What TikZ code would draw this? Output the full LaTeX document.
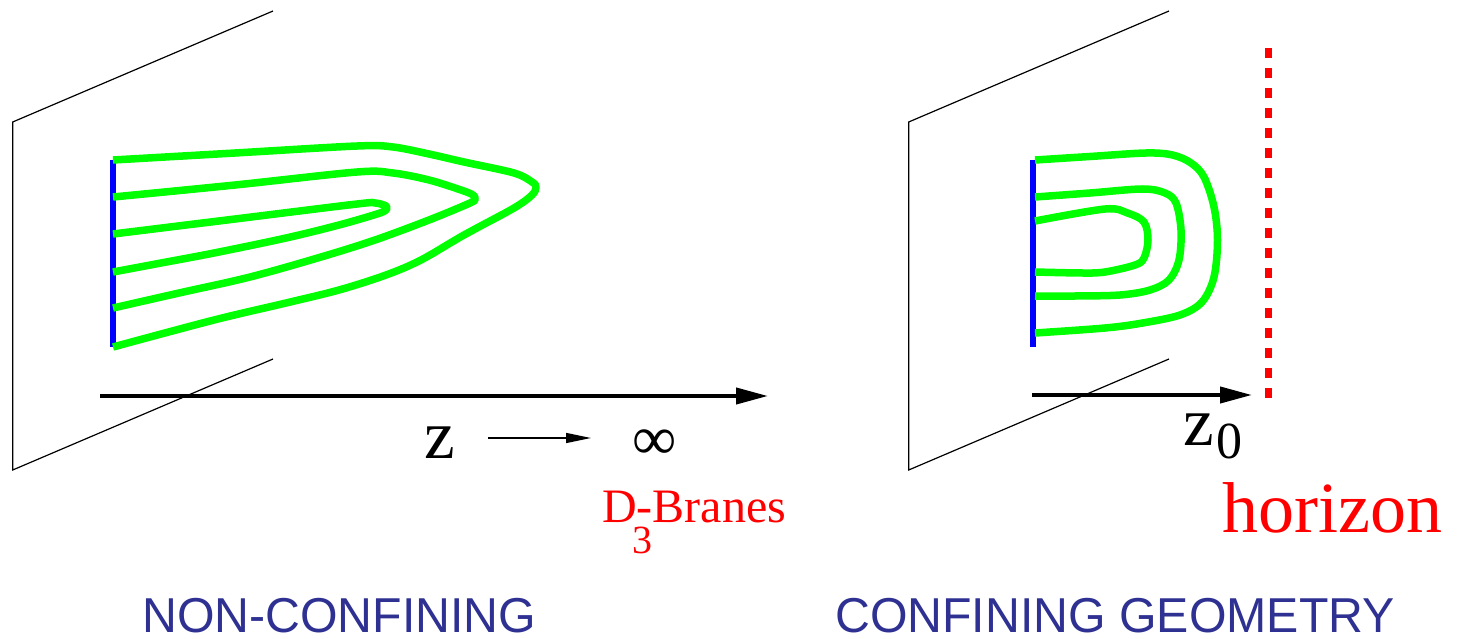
\documentclass[tikz,border=0pt]{standalone}
\usepackage{fontspec}
\setmainfont{Liberation Serif}
\newfontfamily\captionfont[FakeStretch=0.985]{Liberation Sans}
\usetikzlibrary{arrows.meta}
\definecolor{capblue}{RGB}{46,49,146}

\begin{document}
\begin{tikzpicture}[x=1pt, y=-1pt,
  wall/.style={line width=1.2pt, black},
  brane/.style={line width=6pt, blue},
  flux/.style={line width=7.5pt, green, line join=round},
  zaxis/.style={line width=4pt, -{Triangle[length=32pt,width=16pt]}},
  lbl/.style={anchor=base west, inner sep=0pt},
  caption/.style={lbl, text=capblue, font=\captionfont\fontsize{49}{52}\selectfont}]
  \useasboundingbox (0,0) rectangle (1468,639);

  % non-confining: strings reach out to z -> infinity
  \draw[wall] (273,11) -- (12.7,122) -- (12.7,470) -- (273,359);
  \coordinate (bl1) at (112.5,160);
  \coordinate (bl2) at (112.5,347);
  \draw[brane] (bl1) -- (bl2);
  \draw[flux] plot[smooth, tension=0.55] coordinates {(113,160) (235,153) (357,146) (393,147) (429,154) (464,162) (514,173) (532,182) (536,187) (532,195) (514,208) (464,235) (421,260) (386,275) (339,290) (286,303) (214,320) (113,347)};
  \draw[flux] plot[smooth, tension=0.55] coordinates {(113,197) (235,185) (357,172) (393,173) (429,180) (461,190) (473,195) (475,199) (470,203) (429,220) (375,240) (321,257) (250,277) (179,293) (113,308)};
  \draw[flux] plot[smooth, tension=0.55] coordinates {(113,234) (235,219) (357,204) (375,203) (386,206) (386,210) (377,214) (339,225) (286,238) (214,253) (161,263) (113,272)};
  \coordinate (ax1) at (100,396);
  \coordinate (ax2) at (768,396);
  \draw[zaxis] (ax1) -- (ax2);
  \node[lbl, font=\fontsize{69}{72}\selectfont] (zl) at (424,458) {z};
  \node[lbl, font=\fontsize{62}{66}\selectfont] (inf) at (632,459) {∞};
  \draw[line width=1.5pt, -{Triangle[length=25pt,width=10pt]}] ([xshift=33pt,yshift=20pt]zl.base east) -- ([xshift=-41pt,yshift=21pt]inf.base west);
  \node[lbl, red, font=\fontsize{48}{52}\selectfont] (dbr) at (602,522) {D\rlap{\kern-4pt\raisebox{-31pt}{\fontsize{40}{44}\selectfont 3}}-Branes};
  \node[caption] (nc) at (142,632) {NON-CONFINING};

  % confining: strings turn back before the horizon
  \draw[wall] (1169,11) -- (908.7,122) -- (908.7,470) -- (1169,359);
  \coordinate (br1) at (1032.6,160);
  \coordinate (br2) at (1032.6,347);
  \draw[brane] (br1) -- (br2);
  \draw[flux] plot[smooth, tension=0.55] coordinates {(1035,160) (1090,156.5) (1146,153) (1172.5,155) (1191,163) (1204,177) (1214,207) (1217.5,240) (1214,277) (1202,302) (1180,315) (1142.5,323) (1105,328) (1035,333)};
  \draw[flux] plot[smooth, tension=0.55] coordinates {(1035,197) (1090,193) (1142.5,189) (1165,193) (1176,203) (1181,230) (1179,260) (1169,280) (1150,290) (1120,295) (1075,296) (1035,296)};
  \draw[flux] plot[smooth, tension=0.55] coordinates {(1035,221) (1105,209) (1127.5,213) (1144,222) (1148,240) (1144,258) (1135,265) (1105,272) (1082.5,273) (1035,272)};
  \coordinate (ay1) at (1032,395);
  \coordinate (ay2) at (1252,395);
  \draw[zaxis] (ay1) -- (ay2);
  \coordinate (hz1) at (1268,48);
  \coordinate (hz2) at (1268,398);
  \draw[red, line width=7pt, dash pattern=on 10pt off 10pt] (hz1) -- (hz2);
  \node[lbl, font=\fontsize{69}{72}\selectfont] (z0) at (1183,445) {z\kern3pt\raisebox{-13pt}{\fontsize{52}{56}\selectfont 0}};
  \node[lbl, red, font=\fontsize{72}{76}\selectfont] (hor) at (1222,532) {horizon};
  \node[caption] (cg) at (835,632) {CONFINING GEOMETRY};
\end{tikzpicture}
\end{document}
